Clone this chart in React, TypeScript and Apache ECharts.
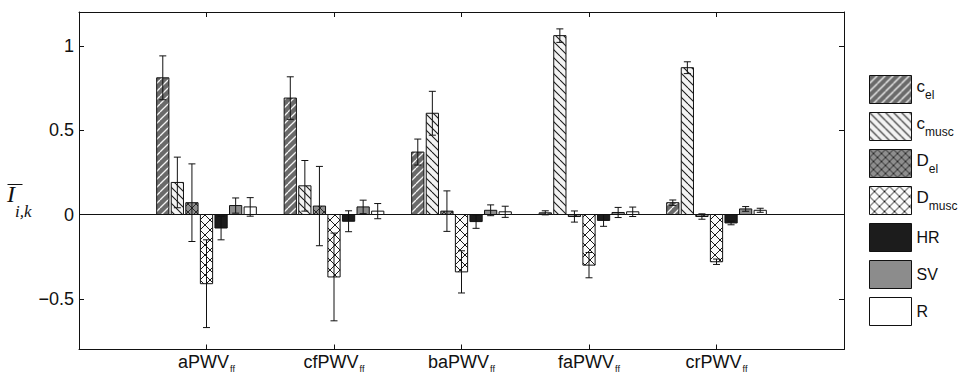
import React, { useEffect, useRef } from 'react';
import * as echarts from 'echarts';

// ---------- data ----------
const categories = ['aPWV', 'cfPWV', 'baPWV', 'faPWV', 'crPWV'];
const categorySub = 'ff';
const categoryPositions = [1, 2, 3, 4, 5];
const seriesNames = ['c_el', 'c_musc', 'D_el', 'D_musc', 'HR', 'SV', 'R'];

const cEl = [0.81, 0.69, 0.37, 0.01, 0.07];
const cElErr = [0.13, 0.126, 0.077, 0.012, 0.016];
const cMusc = [0.19, 0.17, 0.6, 1.06, 0.87];
const cMuscErr = [0.15, 0.15, 0.13, 0.04, 0.035];
const dEl = [0.07, 0.05, 0.02, -0.012, -0.012];
const dElErr = [0.23, 0.235, 0.12, 0.033, 0.016];
const dMusc = [-0.41, -0.37, -0.34, -0.3, -0.28];
const dMuscErr = [0.26, 0.26, 0.125, 0.075, 0.016];
const hr = [-0.08, -0.04, -0.042, -0.035, -0.05];
const hrErr = [0.07, 0.062, 0.04, 0.035, 0.011];
const sv = [0.053, 0.045, 0.025, 0.012, 0.033];
const svErr = [0.045, 0.04, 0.032, 0.03, 0.014];
const rr = [0.045, 0.02, 0.016, 0.016, 0.025];
const rErr = [0.055, 0.045, 0.033, 0.028, 0.012];

const yTicks = [-0.5, 0, 0.5, 1];

const seriesValues = [cEl, cMusc, dEl, dMusc, hr, sv, rr];
const seriesErrors = [cElErr, cMuscErr, dElErr, dMuscErr, hrErr, svErr, rErr];

// ---------- styles ----------
const SANS = '"Liberation Sans", Arial, Helvetica, sans-serif';
const SERIF = '"Liberation Serif", "Times New Roman", serif';
const INK = '#111111';

function hatch(bg: string, line: string, p: number, dirs: string[], lw: number): any {
  const c = document.createElement('canvas');
  c.width = p;
  c.height = p;
  const ctx = c.getContext('2d')!;
  ctx.fillStyle = bg;
  ctx.fillRect(0, 0, p, p);
  ctx.strokeStyle = line;
  ctx.lineWidth = lw;
  for (const d of dirs) {
    for (const o of [-p, 0, p]) {
      ctx.beginPath();
      if (d === '/') {
        ctx.moveTo(o, p);
        ctx.lineTo(o + p, 0);
      } else {
        ctx.moveTo(o, 0);
        ctx.lineTo(o + p, p);
      }
      ctx.stroke();
    }
  }
  return { image: c.toDataURL(), repeat: 'repeat', imageWidth: p, imageHeight: p };
}

function labelRich(name: string): string {
  const parts = name.split('_');
  if (parts.length === 2) return `{m|${parts[0]}}{s|${parts[1]}}`;
  return `{n|${name}}`;
}

export default function App() {
  const ref = useRef<HTMLDivElement>(null);

  useEffect(() => {
    if (!ref.current) return;
    const chart = echarts.init(ref.current, null, { renderer: 'svg' });

    const fills: any[] = [
      hatch('#6a6a6a', '#f4f4f4', 8, ['/'], 1.3),
      hatch('#f3f3f3', '#1a1a1a', 8, ['\\'], 1.1),
      hatch('#8e8e8e', '#2a2a2a', 8, ['/', '\\'], 1),
      hatch('#fbfbfb', '#1a1a1a', 10, ['/', '\\'], 1),
      '#1c1c1c',
      '#8c8c8c',
      '#ffffff',
    ];

    const series: any[] = seriesNames.map((name, i) => ({
      name,
      type: 'custom',
      xAxisIndex: 0,
      yAxisIndex: 0,
      encode: { x: 0, y: 1 },
      data: categoryPositions.map((pos, k) => [pos, seriesValues[i][k], seriesErrors[i][k]]),
      z: 3,
      renderItem: (params: any, api: any) => {
        const pos = api.value(0);
        const v = api.value(1);
        const e = api.value(2);
        const unit = api.size([1, 0])[0];
        const pitch = (unit * 0.8) / 7;
        const bw = pitch * 0.84;
        const base = api.coord([pos, 0]);
        const cx = base[0] + (i - 3) * pitch;
        const y0 = base[1];
        const yv = api.coord([pos, v])[1];
        const yT = api.coord([pos, v + e])[1];
        const yB = api.coord([pos, v - e])[1];
        const cap = 3.5;
        const ls = { stroke: INK, lineWidth: 1 };
        return {
          type: 'group',
          children: [
            {
              type: 'rect',
              shape: { x: cx - bw / 2, y: Math.min(y0, yv), width: bw, height: Math.max(Math.abs(yv - y0), 0.5) },
              style: { fill: fills[i], stroke: INK, lineWidth: 1 },
            },
            { type: 'line', shape: { x1: cx, y1: yT, x2: cx, y2: yB }, style: ls },
            { type: 'line', shape: { x1: cx - cap, y1: yT, x2: cx + cap, y2: yT }, style: ls },
            { type: 'line', shape: { x1: cx - cap, y1: yB, x2: cx + cap, y2: yB }, style: ls },
          ],
        };
      },
      markLine:
        i === 0
          ? {
              silent: true,
              symbol: ['none', 'none'],
              label: { show: false },
              lineStyle: { color: INK, width: 1, type: 'solid' },
              data: [{ yAxis: 0 }],
              z: 1,
            }
          : undefined,
    }));

    const axisLine = { show: true, onZero: false, lineStyle: { color: INK, width: 1 } };

    chart.setOption({
      animation: false,
      backgroundColor: '#ffffff',
      grid: { left: 79, right: 118, top: 12, bottom: 25.5, containLabel: false },
      xAxis: [
        {
          type: 'value',
          position: 'bottom',
          min: 0,
          max: 6,
          axisLine,
          axisTick: { show: true, inside: true, length: 5, customValues: categoryPositions, lineStyle: { color: INK } },
          axisLabel: {
            customValues: categoryPositions,
            margin: 3,
            formatter: (v: number) => `{m|${categories[Math.round(v) - 1]}}{s|${categorySub}}`,
            rich: {
              m: { fontSize: 18, fontFamily: SANS, color: INK, lineHeight: 20, verticalAlign: 'top' },
              s: { fontSize: 9, fontFamily: SANS, color: INK, padding: [12, 0, 0, 1], verticalAlign: 'bottom' },
            },
          },
          splitLine: { show: false },
        },
        {
          type: 'value',
          position: 'top',
          min: 0,
          max: 6,
          axisLine,
          axisTick: { show: true, inside: true, length: 5, customValues: categoryPositions, lineStyle: { color: INK } },
          axisLabel: { show: false },
          splitLine: { show: false },
        },
      ],
      yAxis: [
        {
          type: 'value',
          position: 'left',
          min: -0.8,
          max: 1.2,
          axisLine,
          axisTick: { show: true, inside: true, length: 5, customValues: yTicks, lineStyle: { color: INK } },
          axisLabel: {
            customValues: yTicks,
            margin: 5,
            fontSize: 18,
            fontFamily: SANS,
            color: INK,
            formatter: (v: number) => (v < 0 ? '\u2212' + String(Math.abs(v)) : String(v)),
          },
          splitLine: { show: false },
        },
        {
          type: 'value',
          position: 'right',
          min: -0.8,
          max: 1.2,
          axisLine,
          axisTick: { show: true, inside: true, length: 5, customValues: yTicks, lineStyle: { color: INK } },
          axisLabel: { show: false },
          splitLine: { show: false },
        },
      ],
      legend: {
        orient: 'vertical',
        left: 869,
        top: 75,
        padding: 0,
        itemWidth: 42,
        itemHeight: 28,
        itemGap: 8,
        icon: 'rect',
        itemStyle: { borderColor: INK, borderWidth: 1 },
        textStyle: {
          color: INK,
          fontFamily: SANS,
          fontSize: 16,
          rich: {
            m: { fontSize: 17, fontFamily: SANS, color: INK, verticalAlign: 'top' },
            s: { fontSize: 12, fontFamily: SANS, color: INK, padding: [11, 0, 0, 0], verticalAlign: 'bottom' },
            n: { fontSize: 16, fontFamily: SANS, color: INK },
          },
        },
        formatter: (name: string) => labelRich(name),
        data: seriesNames.map((name, i) => ({
          name,
          icon: 'rect',
          itemStyle: { color: fills[i], borderColor: INK, borderWidth: 1 },
        })),
      },
      graphic: [
        {
          type: 'text',
          x: 7,
          y: 182,
          style: { text: 'I', font: `italic 24px ${SERIF}`, fill: INK, verticalAlign: 'top' },
        },
        {
          type: 'line',
          shape: { x1: 7.5, y1: 184.5, x2: 22.5, y2: 184.5 },
          style: { stroke: INK, lineWidth: 1 },
        },
        {
          type: 'text',
          x: 15,
          y: 203,
          style: { text: 'i,k', font: `italic 17px ${SERIF}`, fill: INK, verticalAlign: 'top' },
        },
      ],
      series,
    });

    return () => chart.dispose();
  }, []);

  return <div ref={ref} style={{ width: 962, height: 375, position: 'absolute', left: 0, top: 0 }} />;
}
